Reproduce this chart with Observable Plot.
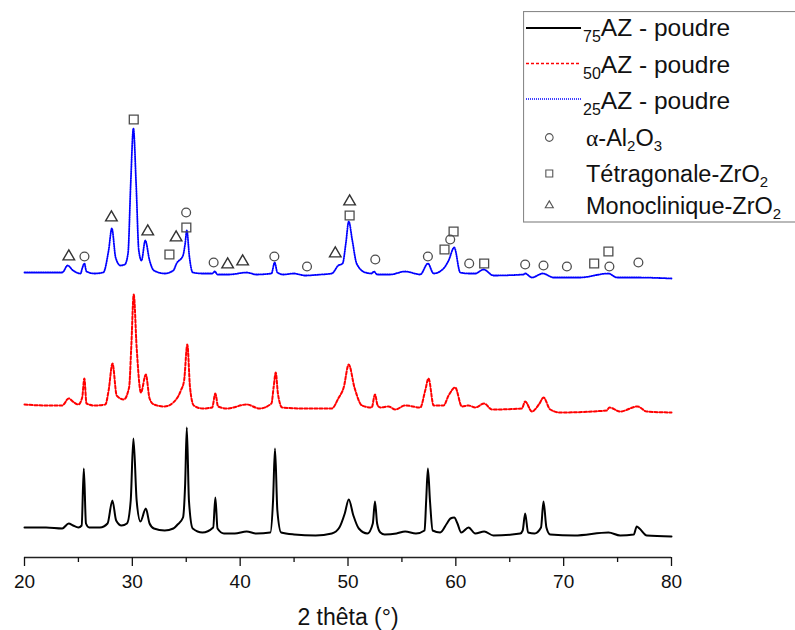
<!DOCTYPE html>
<html>
<head>
<meta charset="utf-8">
<script src="https://cdn.jsdelivr.net/npm/d3@7"></script>
<script src="https://cdn.jsdelivr.net/npm/@observablehq/plot@0.6"></script>
<style>
  html, body { margin: 0; padding: 0; background: #fff; overflow: hidden; }
  #wrap { position: relative; width: 795px; height: 630px; }
  #legend { position: absolute; left: 523px; top: 11px; }
</style>
</head>
<body>
<div id="wrap"></div>
<script>
// 2θ (°) and stacked intensity (a.u.)
const az75 = [[20,30],[22,30],[23.5,29],[24.1,34],[24.5,32],[25.0,30],[25.3,32],[25.5,89],[25.7,34],[26.0,30],[27.0,30],[27.7,34],[28.15,57],[28.5,37],[29.0,32],[29.5,34],[29.85,57],[30.1,119],[30.4,57],[30.75,36],[31.25,49],[31.6,34],[32.0,29],[33.0,27],[33.8,29],[34.2,33],[34.7,40],[34.9,74],[35.05,130],[35.25,57],[35.6,29],[36.5,25],[37.5,30],[37.7,60],[37.9,29],[38.5,24],[39.5,24],[40.6,26],[41.5,24],[42.8,25],[43.05,57],[43.23,109],[43.45,47],[43.8,25],[45,23],[47,22],[48.5,24],[49.2,30],[49.7,44],[50.07,58],[50.5,42],[51.0,29],[51.8,24],[52.3,34],[52.5,56],[52.7,34],[53.0,25],[53.4,23],[54.5,24],[55.3,26],[56.3,24],[57.1,27],[57.25,57],[57.41,89],[57.6,57],[57.85,27],[58.55,25],[59.17,34],[59.5,39],[59.85,40],[60.15,34],[60.5,25],[61.18,30],[61.8,24],[62.63,26],[63.49,22],[65.97,24],[66.2,27],[66.43,44],[66.7,25],[67.3,24],[67.9,30],[68.13,56],[68.4,30],[68.75,23],[71,22],[74.16,25],[75.24,22],[76.5,23],[76.78,31],[77.03,29],[77.71,22],[80,21]];

const az50 = [[20,153],[22,152],[23.5,152],[24.1,159],[24.6,155],[25.0,153],[25.35,160],[25.55,179],[25.75,154],[26.5,152],[27.5,153],[27.8,167],[28.16,194],[28.55,162],[29.2,158],[29.7,170],[29.9,210],[30.13,263],[30.4,210],[30.8,165],[31.25,183],[31.6,159],[32.0,153],[33.0,151],[33.8,155],[34.5,167],[34.8,177],[35.1,213],[35.35,170],[35.7,152],[36.5,149],[37.4,150],[37.7,164],[37.95,151],[38.8,149],[40.6,153],[41.8,149],[42.9,154],[43.1,170],[43.3,185],[43.5,164],[43.9,150],[46,149],[48.5,149],[49.1,159],[49.6,170],[50.07,193],[50.6,170],[51.3,152],[52.2,150],[52.5,163],[52.75,152],[53.0,150],[53.77,151],[54.38,148],[55.31,152],[56.7,150],[57.16,167],[57.47,179],[57.94,152],[58.86,152],[59.33,162],[59.94,170],[60.56,151],[61.18,152],[61.8,150],[62.63,154],[63.34,148],[66.12,149],[66.43,156],[67.05,146],[67.76,154],[68.13,160],[68.75,148],[69.68,145],[74.0,147],[74.24,150],[75.24,146],[76.84,151],[77.71,146],[80,145]];

const az25 = [[20,285],[22,285],[23.5,285],[24.0,292],[24.5,287],[25.2,284],[25.35,289],[25.55,294],[25.75,286],[26.5,284],[27.3,285],[27.8,307],[28.1,329],[28.45,300],[28.9,292],[29.3,293],[29.6,304],[29.85,374],[30.1,429],[30.35,374],[30.6,307],[30.85,297],[31.2,317],[31.6,297],[32.0,287],[33.0,284],[33.8,287],[34.1,294],[34.7,302],[34.9,314],[35.05,327],[35.3,300],[35.6,285],[36.5,284],[37.4,284],[37.65,286],[37.9,283],[39.0,283],[40.6,285],[41.5,283],[42.9,284],[43.2,295],[43.45,285],[44,283],[45,284],[46,282],[47.5,283],[48.5,284],[49.1,292],[49.5,294],[49.8,314],[50.07,336],[50.4,317],[50.8,294],[51.6,285],[52.2,284],[52.4,286],[52.7,283],[53.9,283],[55.31,286],[56.7,283],[57.41,294],[57.94,284],[58.86,289],[59.33,297],[59.85,310],[60.41,285],[61.18,284],[61.8,284],[62.57,288],[63.49,282],[66.27,283],[66.43,284],[67.05,280],[68.07,284],[69.06,280],[71.53,280],[74.16,284],[74.93,280],[76.78,280],[80,279]];

// phase markers (2θ, height)
const alumina = [[25.56,301],[34.99,345],[37.54,295],[43.17,301],[46.2,291],[52.53,298],[57.41,301],[59.48,318],[61.24,294],[66.43,293],[68.13,292],[70.3,291],[74.24,291],[76.93,295]];
const tetragonal = [[30.13,438],[33.44,303],[35.01,330],[50.15,342],[58.95,308],[59.79,326],[62.63,294],[72.83,294],[74.15,306]];
const monoclinic = [[24.11,301],[28.06,340],[31.43,326],[34.06,320],[38.84,293],[40.23,296],[48.82,304],[50.15,356]];

const majorTicks = [20, 30, 40, 50, 60, 70, 80];
const minorTicks = [25, 35, 45, 55, 65, 75];
const xLabel = "2 thêta (°)";

const X = d => d[0], Y = d => d[1];
const markStroke = "#4d4d4d";

const chart = Plot.plot({
  width: 795,
  height: 630,
  marginLeft: 24,
  marginRight: 124,
  marginTop: 117,
  marginBottom: 73,
  x: {domain: [20, 80]},
  y: {domain: [0, 440], axis: null},
  style: {fontFamily: "'Liberation Sans', Arial, sans-serif", fontSize: "19px", color: "#111", background: "#fff"},
  marks: [
    Plot.ruleY([0], {stroke: "#222", strokeWidth: 1.3}),
    Plot.axisX({ticks: majorTicks, tickSize: 9, tickPadding: 8, tickFormat: d => String(d), label: null, strokeWidth: 1.3, fontSize: 19}),
    Plot.axisX({ticks: minorTicks, tickSize: 5, tickFormat: () => "", label: null, strokeWidth: 1.3}),
    Plot.line(az75, {x: X, y: Y, stroke: "#000", strokeWidth: 2, curve: "monotone-x"}),
    Plot.line(az50, {x: X, y: Y, stroke: "#ff0000", strokeWidth: 2, strokeDasharray: "3,2", curve: "monotone-x"}),
    Plot.line(az25, {x: X, y: Y, stroke: "#0000ff", strokeWidth: 1.8, strokeDasharray: "1,1.3", curve: "monotone-x"}),
    Plot.dot(alumina, {x: X, y: Y, symbol: "circle", r: 4.4, stroke: markStroke, fill: "none", strokeWidth: 1.3}),
    Plot.dot(tetragonal, {x: X, y: Y, symbol: "square", r: 5, stroke: markStroke, fill: "none", strokeWidth: 1.3}),
    Plot.dot(monoclinic, {x: X, y: Y, symbol: "triangle", r: 4.3, stroke: "#333", fill: "none", strokeWidth: 1.4}),
    Plot.text([xLabel], {frameAnchor: "bottom", lineAnchor: "middle", dy: 60, fontSize: 23, fill: "#111"})
  ]
});
document.getElementById("wrap").appendChild(chart);

// Legend overlay
const legendRows = [
  {type: "line", sub: "75", text: "AZ - poudre", stroke: "#000", dash: null, width: 2},
  {type: "line", sub: "50", text: "AZ - poudre", stroke: "#ff0000", dash: "3,2", width: 1.5},
  {type: "line", sub: "25", text: "AZ - poudre", stroke: "#0000ff", dash: "1,1", width: 1.5},
  {type: "circle", parts: [["α", "serif"], ["-Al"], ["2", "sub"], ["O"], ["3", "sub"]]},
  {type: "square", parts: [["Tétragonale-ZrO"], ["2", "sub"]]},
  {type: "triangle", parts: [["Monoclinique-ZrO"], ["2", "sub"]]}
];
const rowCenters = [17, 52.5, 88, 126.5, 162.5, 194.5];
const rowBase = [25, 61.5, 98, 134.5, 170.5, 202.5];

const lg = d3.create("svg")
  .attr("id", "legend")
  .attr("width", 272)
  .attr("height", 216)
  .style("font-family", "'Liberation Sans', Arial, sans-serif");
lg.append("rect").attr("x", 0.5).attr("y", 0.5).attr("width", 400).attr("height", 210.5)
  .attr("fill", "#fff").attr("stroke", "#8a8a8a").attr("stroke-width", 1.2);

legendRows.forEach((r, i) => {
  const cy = rowCenters[i], by = rowBase[i];
  if (r.type === "line") {
    lg.append("line").attr("x1", 3).attr("x2", 58).attr("y1", cy).attr("y2", cy)
      .attr("stroke", r.stroke).attr("stroke-width", r.width)
      .attr("stroke-dasharray", r.dash);
    const t = lg.append("text").attr("x", 60).attr("y", by).attr("fill", "#111").attr("font-size", 24.5);
    t.append("tspan").attr("font-size", 16).attr("dy", 6).text(r.sub);
    t.append("tspan").attr("dy", -6).text(r.text);
  } else {
    const sym = r.type === "circle" ? d3.symbolCircle : r.type === "square" ? d3.symbolSquare : d3.symbolTriangle;
    const size = r.type === "triangle" ? 28 : r.type === "square" ? 48 : 46;
    lg.append("path").attr("d", d3.symbol(sym, size)())
      .attr("transform", `translate(26.3,${cy})`)
      .attr("fill", "none").attr("stroke", "#555").attr("stroke-width", 1.1);
    const t = lg.append("text").attr("x", 63).attr("y", by).attr("fill", "#111").attr("font-size", 23.5);
    let shifted = false;
    r.parts.forEach(([s, kind]) => {
      const sp = t.append("tspan").text(s);
      if (kind === "sub") { sp.attr("font-size", 15).attr("dy", 5); shifted = true; }
      else {
        if (shifted) { sp.attr("dy", -5); shifted = false; }
        if (kind === "serif") sp.attr("font-family", "'Liberation Serif', 'Times New Roman', serif");
      }
    });
  }
});
document.getElementById("wrap").appendChild(lg.node());
</script>
</body>
</html>
